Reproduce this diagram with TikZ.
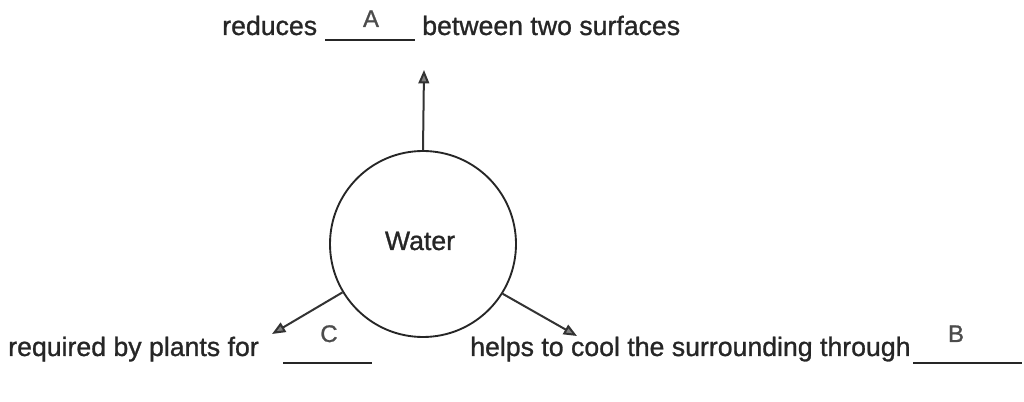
\documentclass[tikz,border=0pt]{standalone}
\usepackage{fontspec}
\setmainfont{Liberation Sans}[FakeBold=1]
\usetikzlibrary{arrows.meta}
\begin{document}
\begin{tikzpicture}[x=0.75pt,y=-0.75pt,
  lbl/.style={inner sep=0pt,anchor=base west,font=\fontsize{20}{24}\selectfont,text=black!85},
  blank/.style={inner sep=0pt,anchor=base,font=\fontsize{18}{22}\selectfont,text=black!70},
  conn/.style={draw=black!80,line width=1.5pt,-{Triangle[length=10pt,width=8pt,fill=black!50]}},
  uline/.style={draw=black!85,line width=1.2pt}]
\useasboundingbox (0,0) rectangle (1024,402);
\node[draw=black!85,line width=1.4pt,circle,minimum size=139.5pt,inner sep=0pt] (water) at (423,244) {};
\node[lbl,anchor=base] (wt) at (420,250) {Water};
% top
\node[lbl] (t1) at (222,35) {reduces};
\node[lbl] (t2) at (422,35) {between two surfaces};
\node[blank] (a) at (371,27) {A};
\draw[uline] (325,40) -- (415,40);
% bottom left
\node[lbl] (b1) at (8,356) {required by plants for};
\node[blank] (c) at (329,342) {C};
\draw[uline] (283,363) -- (372,363);
% bottom right
\node[lbl] (b2) at (470,356) {helps to cool the surrounding through};
\node[blank] (b) at (956,342) {B};
\draw[uline] (913,363) -- (1022,363);
% arrows
\coordinate (tipA) at (424,70);
\coordinate (tipC) at (272,334);
\coordinate (tipB) at (577,336);
\draw[conn] (water.90) -- (tipA);
\draw[conn] (water.211) -- (tipC);
\draw[conn] (water.328) -- (tipB);
\end{tikzpicture}
\end{document}
